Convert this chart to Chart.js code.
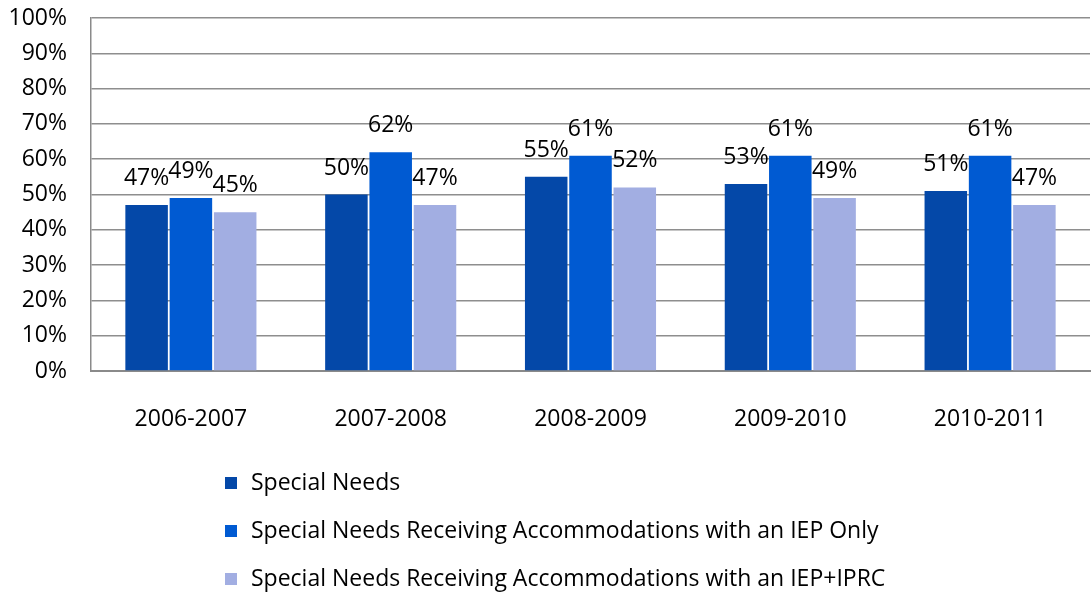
<!DOCTYPE html>
<html>
<head>
<meta charset="utf-8">
<script src="https://cdn.jsdelivr.net/npm/chart.js@4"></script>
<style>
  html, body { margin: 0; padding: 0; background: #fff; }
  #wrap { width: 1092px; height: 592px; }
</style>
</head>
<body>
<div id="wrap"><canvas id="chart" width="1092" height="592"></canvas></div>
<script>
const years = ["2006-2007", "2007-2008", "2008-2009", "2009-2010", "2010-2011"];
const specialNeeds = [47, 50, 55, 53, 51];
const iepOnly = [49, 62, 61, 61, 61];
const iepIprc = [45, 47, 52, 49, 47];
const seriesNames = [
  "Special Needs",
  "Special Needs Receiving Accommodations with an IEP Only",
  "Special Needs Receiving Accommodations with an IEP+IPRC",
];
const seriesColors = ["#0448A8", "#005AD2", "#A2AEE2"];

const FONT = "'Open Sans', sans-serif";

// value labels above each bar
const barLabels = {
  id: "barLabels",
  afterDatasetsDraw(chart) {
    const ctx = chart.ctx;
    ctx.save();
    ctx.font = "23px " + FONT;
    ctx.fillStyle = "#000";
    ctx.textAlign = "center";
    ctx.textBaseline = "alphabetic";
    chart.data.datasets.forEach((ds, i) => {
      chart.getDatasetMeta(i).data.forEach((bar, j) => {
        ctx.fillText(ds.data[j] + "%", bar.x, bar.y - 20);
      });
    });
    ctx.restore();
  },
};

// stacked legend under the chart
const listLegend = {
  id: "listLegend",
  afterDraw(chart) {
    const ctx = chart.ctx;
    ctx.save();
    ctx.font = "23px " + FONT;
    ctx.textBaseline = "middle";
    chart.data.datasets.forEach((ds, i) => {
      const y = 483 + i * 48;
      ctx.fillStyle = ds.backgroundColor;
      ctx.fillRect(225, y - 6, 12, 12);
      ctx.fillStyle = "#000";
      ctx.fillText(ds.label, 251, y);
    });
    ctx.restore();
  },
};

new Chart(document.getElementById("chart"), {
  type: "bar",
  data: {
    labels: years,
    datasets: [
      { label: seriesNames[0], data: specialNeeds, backgroundColor: seriesColors[0] },
      { label: seriesNames[1], data: iepOnly, backgroundColor: seriesColors[1] },
      { label: seriesNames[2], data: iepIprc, backgroundColor: seriesColors[2] },
    ],
  },
  options: {
    responsive: false,
    animation: false,
    layout: { padding: { top: 18, right: 2, bottom: 160, left: 0 } },
    datasets: {
      bar: { categoryPercentage: 0.665, barPercentage: 0.96 },
    },
    scales: {
      x: {
        grid: { display: false },
        border: { display: true, color: "#8a8a8a", width: 2 },
        ticks: { color: "#000", font: { family: FONT, size: 23 }, padding: 27 },
        afterFit(scale) { scale.height = 61; },
      },
      y: {
        min: 0,
        max: 100,
        ticks: {
          stepSize: 10,
          color: "#000",
          font: { family: FONT, size: 23 },
          padding: 24,
          callback: (v) => v + "%",
        },
        grid: { color: "#8e8e8e", lineWidth: 1.5, drawTicks: false },
        border: { display: true, color: "#8a8a8a", width: 1.5 },
        afterFit(scale) {
          scale.width = 91;
          scale.paddingTop = 0;
          scale.paddingBottom = 0;
        },
      },
    },
    plugins: {
      legend: { display: false },
      tooltip: { enabled: false },
    },
  },
  plugins: [barLabels, listLegend],
});
</script>
</body>
</html>
